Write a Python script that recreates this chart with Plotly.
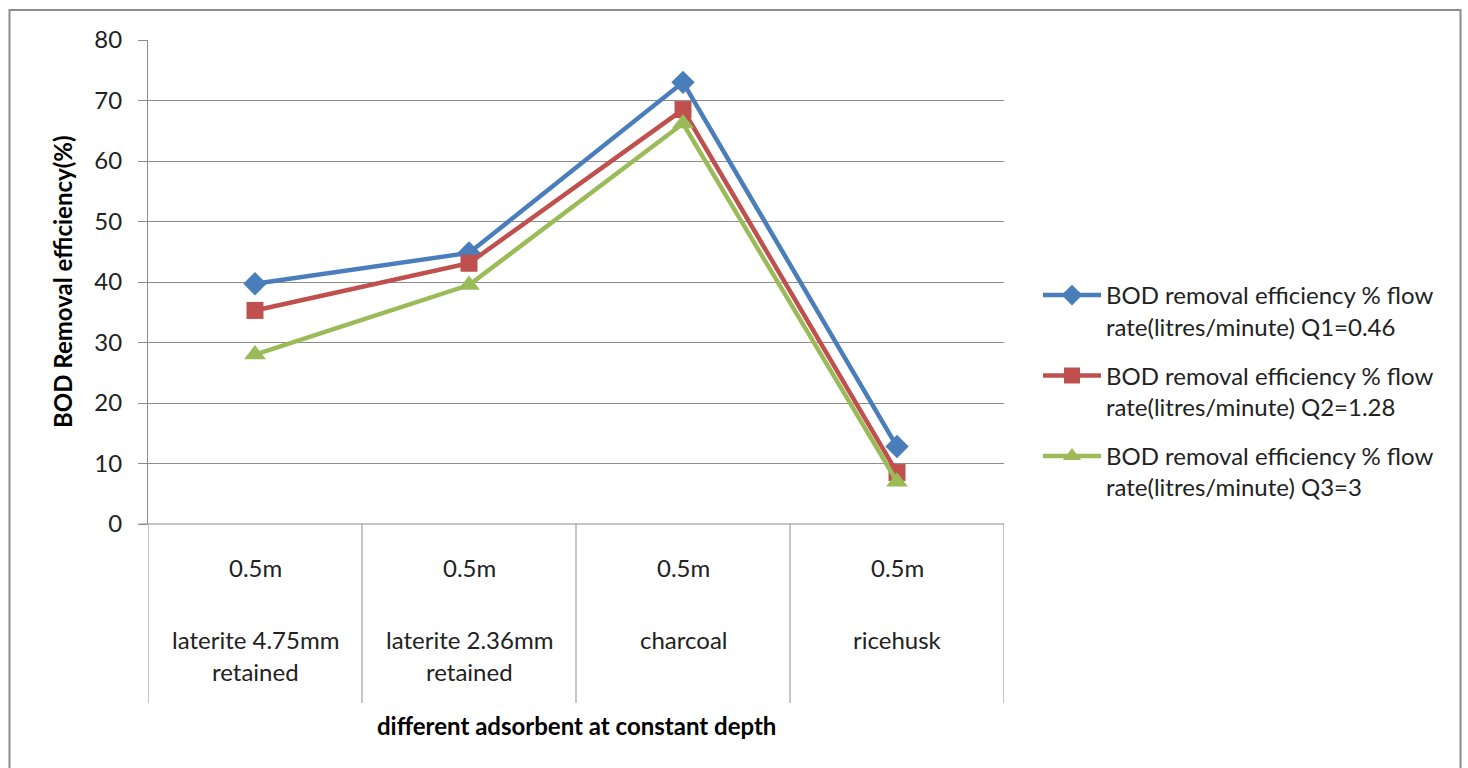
import plotly.graph_objects as go

# Adsorbent categories (all tested at the same bed depth)
depths = ["0.5m", "0.5m", "0.5m", "0.5m"]
adsorbents = ["laterite 4.75mm<br>retained", "laterite 2.36mm<br>retained", "charcoal", "ricehusk"]

# BOD removal efficiency (%) per flow rate
q1_values = [39.7, 44.8, 73.0, 12.8]
q2_values = [35.3, 43.1, 68.5, 8.5]
q3_values = [28.0, 39.5, 66.2, 7.0]

series_names = [
    "BOD removal efficiency % flow<br>rate(litres/minute) Q1=0.46",
    "BOD removal efficiency % flow<br>rate(litres/minute) Q2=1.28",
    "BOD removal efficiency % flow<br>rate(litres/minute) Q3=3",
]

W, H = 1468, 768
FONT = "Lato"
TEXT = "#222222"
GRID = "#8c8c8c"
FS = 24

# plot-area placement in pixels
x0_px, x1_px = 148, 1004
y_top_px, y_bot_px = 40, 524


def px_x(px):
    return px / W


def px_y(px):
    return 1 - px / H


xs = list(range(len(adsorbents)))

fig = go.Figure()
styles = [
    ("#4a7ebb", "diamond", 18),
    ("#c0504d", "square", 17),
    ("#9bbb59", "triangle-up", 19),
]
for i, (vals, name, (color, symbol, size)) in enumerate(
        zip([q1_values, q2_values, q3_values], series_names, styles)):
    fig.add_trace(go.Scatter(
        x=xs, y=vals, name=name, mode="lines+markers", legendgroup=f"g{i}",
        line=dict(color=color, width=4.5),
        marker=dict(color=color, symbol=symbol, size=size),
    ))

fig.update_layout(
    width=W, height=H,
    margin=dict(l=0, r=0, t=0, b=0, autoexpand=False),
    paper_bgcolor="white", plot_bgcolor="white",
    font=dict(family=FONT, size=FS, color=TEXT),
    showlegend=True,
    legend=dict(
        x=px_x(1038), y=px_y(273), xanchor="left", yanchor="top",
        valign="top", tracegroupgap=15,
        font=dict(family=FONT, size=FS, color=TEXT),
        itemwidth=58, bgcolor="rgba(0,0,0,0)",
    ),
    xaxis=dict(
        domain=[px_x(x0_px), px_x(x1_px)],
        range=[-0.5, len(adsorbents) - 0.5],
        showgrid=False, zeroline=False, showticklabels=False,
        showline=False, ticks="", automargin=False,
    ),
    yaxis=dict(
        domain=[px_y(y_bot_px), px_y(y_top_px)],
        range=[0, 80], dtick=10,
        showgrid=True, gridcolor=GRID, gridwidth=1,
        zeroline=False, showline=True, linecolor=GRID, linewidth=1,
        ticks="outside", ticklen=9, tickcolor=GRID,
        ticklabelstandoff=11, automargin=False,
        tickfont=dict(family=FONT, size=FS, color=TEXT),
    ),
)

# category table below the plot: vertical separators
for k in range(len(adsorbents) + 1):
    fig.add_shape(type="line", xref="x", yref="paper",
                  x0=k - 0.5, x1=k - 0.5, y0=px_y(703), y1=px_y(y_bot_px),
                  line=dict(color=GRID, width=1))
# baseline at zero
fig.add_shape(type="line", xref="paper", yref="paper",
              x0=px_x(139), x1=px_x(x1_px), y0=px_y(y_bot_px), y1=px_y(y_bot_px),
              line=dict(color=GRID, width=1))

# category labels
for k, (d, name) in enumerate(zip(depths, adsorbents)):
    fig.add_annotation(x=k, y=px_y(567), xref="x", yref="paper", text=d,
                       showarrow=False, xanchor="center", yanchor="middle",
                       font=dict(family=FONT, size=FS, color=TEXT))
    for j, line in enumerate(name.split("<br>")):
        fig.add_annotation(x=k, y=px_y(639 + 32 * j), xref="x", yref="paper", text=line,
                           showarrow=False, xanchor="center", yanchor="middle",
                           font=dict(family=FONT, size=FS, color=TEXT))

# axis titles
fig.add_annotation(x=px_x(62), y=px_y((y_top_px + y_bot_px) / 2), xref="paper", yref="paper",
                   text="<b>BOD Removal efficiency(%)</b>", textangle=-90, showarrow=False,
                   xanchor="center", yanchor="middle",
                   font=dict(family=FONT, size=24, color="black"))
fig.add_annotation(x=px_x((x0_px + x1_px) / 2), y=px_y(725), xref="paper", yref="paper",
                   text="<b>different adsorbent at constant depth</b>", showarrow=False,
                   xanchor="center", yanchor="middle",
                   font=dict(family=FONT, size=24, color="black"))

# outer chart frame
fig.add_shape(type="rect", xref="paper", yref="paper",
              x0=px_x(9.5), x1=px_x(1460.5), y0=px_y(790), y1=px_y(10),
              line=dict(color="#8c8c8c", width=2))

fig.write_html("out.html")
